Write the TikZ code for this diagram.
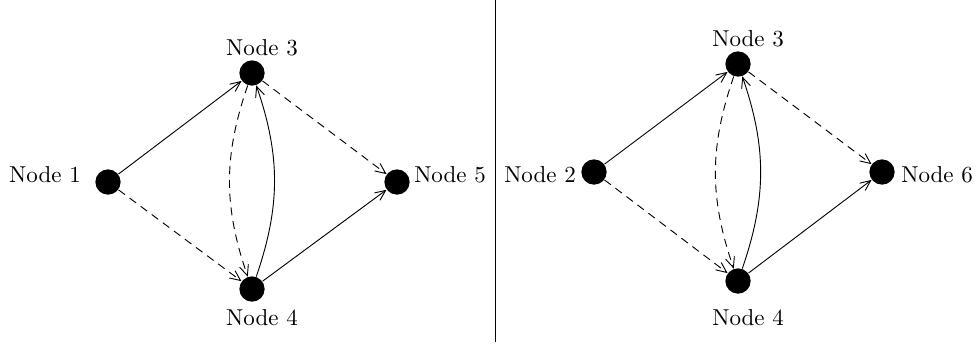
\documentclass[tikz,border=0pt]{standalone}
\usetikzlibrary{arrows.meta}
\begin{document}
\begin{tikzpicture}[x=0.435pt,y=-0.435pt,
  vtx/.style={circle,fill=black,inner sep=0pt,minimum size=11pt},
  lab/.style={inner sep=0pt,font=\normalsize},
  arr/.style={-{Straight Barb[length=4.5pt,width=4pt]},line width=0.4pt},
  dsh/.style={arr,dash pattern=on 3.5pt off 2.5pt}]
\useasboundingbox (0,0) rectangle (977,346);
% divider
\draw[line width=0.6pt] (495.5,0) coordinate (dtop) -- (495.5,342) coordinate (dbot);
% left graph
\node[vtx] (a1) at (108,182) {};
\node[vtx] (a3) at (252,73) {};
\node[vtx] (a4) at (252,289) {};
\node[vtx] (a5) at (397,182) {};
\node[lab] (la1) at (45,175) {Node 1};
\node[lab] (la3) at (262,48) {Node 3};
\node[lab] (la4) at (262,318) {Node 4};
\node[lab] (la5) at (450,175) {Node 5};
\draw[arr] (a1) -- (a3);
\draw[dsh] (a1) -- (a4);
\draw[dsh] (a3) -- (a5);
\draw[arr] (a4) -- (a5);
\draw[dsh] (a3) to[bend right=19] (a4);
\draw[arr] (a4) to[bend right=19] (a3);
% right graph
\node[vtx] (b2) at (594,172) {};
\node[vtx] (b3) at (738,64) {};
\node[vtx] (b4) at (738,281) {};
\node[vtx] (b6) at (882,172) {};
\node[lab] (lb2) at (540,175) {Node 2};
\node[lab] (lb3) at (748,39) {Node 3};
\node[lab] (lb4) at (748,318) {Node 4};
\node[lab] (lb6) at (937,175) {Node 6};
\draw[arr] (b2) -- (b3);
\draw[dsh] (b2) -- (b4);
\draw[dsh] (b3) -- (b6);
\draw[arr] (b4) -- (b6);
\draw[dsh] (b3) to[bend right=19] (b4);
\draw[arr] (b4) to[bend right=19] (b3);
\end{tikzpicture}
\end{document}
